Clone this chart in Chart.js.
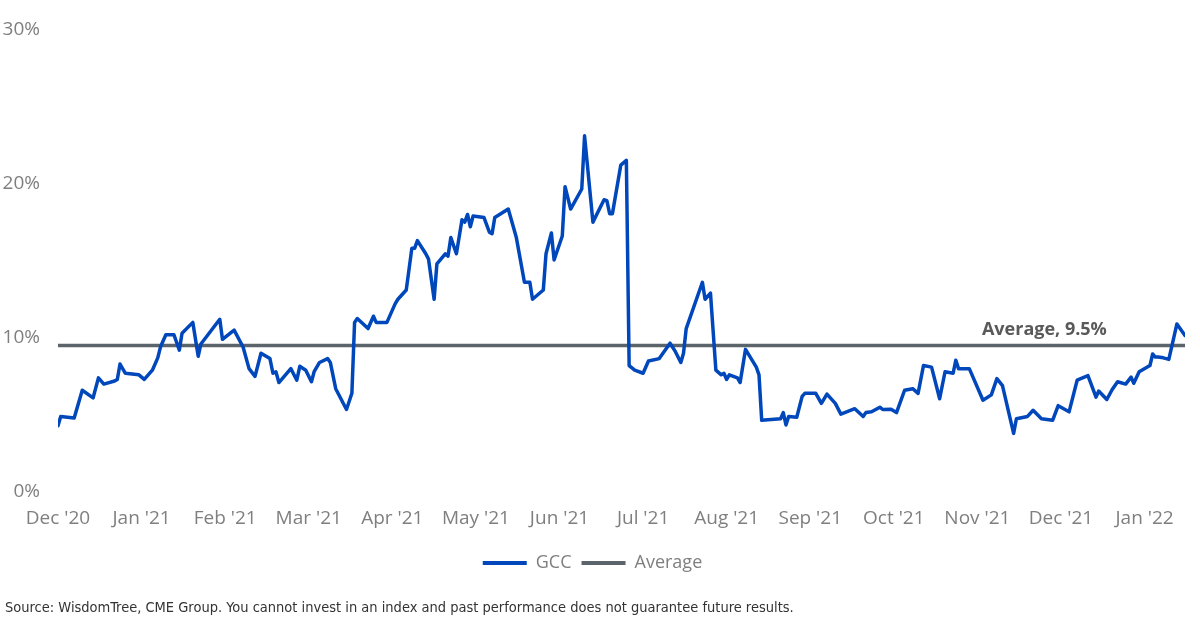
<!DOCTYPE html>
<html>
<head>
<meta charset="utf-8">
<title>GCC</title>
<script src="https://cdn.jsdelivr.net/npm/chart.js@4"></script>
<style>
    body { margin: 0; background: #fff; }
    .wrap { position: relative; width: 1200px; height: 622px; }
    #source {
        position: absolute; left: 5px; top: 599px;
        font: 14.5px "Liberation Sans Narrow", "DejaVu Sans Condensed", sans-serif;
        color: #333; white-space: nowrap;
    }
</style>
</head>
<body>
<div class="wrap">
    <canvas id="gccChart" width="1200" height="622"></canvas>
    <div id="source">Source: WisdomTree, CME Group. You cannot invest in an index and past performance does not guarantee future results.</div>
</div>
<script>
// ---- Data ----
const monthLabels = ["Dec '20", "Jan '21", "Feb '21", "Mar '21", "Apr '21", "May '21", "Jun '21",
    "Jul '21", "Aug '21", "Sep '21", "Oct '21", "Nov '21", "Dec '21", "Jan '22"];

const dates = [
    '2020-12-01', '2020-12-02', '2020-12-07', '2020-12-10', '2020-12-14', '2020-12-16', '2020-12-18',
    '2020-12-22', '2020-12-23', '2020-12-24', '2020-12-26', '2020-12-31',
    '2021-01-02', '2021-01-05', '2021-01-07', '2021-01-08', '2021-01-10', '2021-01-13', '2021-01-15',
    '2021-01-16', '2021-01-20', '2021-01-22', '2021-01-23', '2021-01-30', '2021-01-31',
    '2021-02-04', '2021-02-07', '2021-02-09', '2021-02-11', '2021-02-13', '2021-02-16', '2021-02-17',
    '2021-02-18', '2021-02-19', '2021-02-23', '2021-02-25', '2021-02-26', '2021-02-28',
    '2021-03-02', '2021-03-03', '2021-03-05', '2021-03-08', '2021-03-09', '2021-03-11', '2021-03-15',
    '2021-03-17', '2021-03-18', '2021-03-19', '2021-03-23', '2021-03-25', '2021-03-26', '2021-03-30',
    '2021-04-02', '2021-04-03', '2021-04-06', '2021-04-08', '2021-04-09', '2021-04-10', '2021-04-13',
    '2021-04-14', '2021-04-16', '2021-04-17', '2021-04-20', '2021-04-21', '2021-04-22', '2021-04-24',
    '2021-04-26', '2021-04-27', '2021-04-28', '2021-04-29', '2021-04-30',
    '2021-05-04', '2021-05-06', '2021-05-07', '2021-05-08', '2021-05-13', '2021-05-16', '2021-05-19',
    '2021-05-21', '2021-05-22', '2021-05-26', '2021-05-27', '2021-05-29', '2021-05-30',
    '2021-06-02', '2021-06-03', '2021-06-05', '2021-06-09', '2021-06-10', '2021-06-13', '2021-06-17',
    '2021-06-18', '2021-06-19', '2021-06-20', '2021-06-23', '2021-06-25', '2021-06-26', '2021-06-28',
    '2021-07-01', '2021-07-03', '2021-07-07', '2021-07-11', '2021-07-13', '2021-07-15', '2021-07-16',
    '2021-07-17', '2021-07-23', '2021-07-24', '2021-07-26', '2021-07-28', '2021-07-30', '2021-07-31',
    '2021-08-01', '2021-08-02', '2021-08-05', '2021-08-06', '2021-08-08', '2021-08-12', '2021-08-13',
    '2021-08-14', '2021-08-21', '2021-08-22', '2021-08-23', '2021-08-24', '2021-08-27', '2021-08-29',
    '2021-08-30',
    '2021-09-03', '2021-09-05', '2021-09-07', '2021-09-10', '2021-09-12', '2021-09-17', '2021-09-20',
    '2021-09-21', '2021-09-23', '2021-09-26', '2021-09-27', '2021-09-30',
    '2021-10-02', '2021-10-05', '2021-10-08', '2021-10-10', '2021-10-12', '2021-10-15', '2021-10-18',
    '2021-10-20', '2021-10-23', '2021-10-24', '2021-10-25', '2021-10-29',
    '2021-11-03', '2021-11-06', '2021-11-08', '2021-11-10', '2021-11-14', '2021-11-15', '2021-11-19',
    '2021-11-21', '2021-11-24', '2021-11-28', '2021-11-30',
    '2021-12-04', '2021-12-07', '2021-12-11', '2021-12-14', '2021-12-15', '2021-12-18', '2021-12-20',
    '2021-12-22', '2021-12-25', '2021-12-27', '2021-12-28', '2021-12-30',
    '2022-01-03', '2022-01-04', '2022-01-05', '2022-01-06', '2022-01-08', '2022-01-10', '2022-01-13',
    '2022-01-16'
];

const gcc = [
    4.3, 4.9, 4.8, 6.6, 6.1, 7.4, 7.0,
    7.2, 7.3, 8.3, 7.7, 7.6,
    7.3, 7.9, 8.7, 9.4, 10.2, 10.2, 9.2,
    10.3, 11.0, 8.8, 9.6, 11.2, 9.9,
    10.5, 9.4, 8.0, 7.5, 9.0, 8.65, 7.7,
    7.8, 7.1, 8.0, 7.25, 8.15, 7.9,
    7.15, 7.8, 8.4, 8.65, 8.4, 6.7, 5.35,
    6.4, 11.0, 11.25, 10.6, 11.4, 11.0, 11.0,
    12.2, 12.5, 13.1, 15.8, 15.8, 16.3, 15.45,
    15.1, 12.5, 14.8, 15.45, 15.3, 16.5, 15.45,
    17.65, 17.5, 18.0, 17.2, 17.9,
    17.8, 16.85, 16.75, 17.8, 18.35, 16.5, 13.6,
    13.6, 12.5, 13.1, 15.45, 16.8, 15.05,
    16.6, 19.8, 18.35, 19.65, 23.1, 17.5, 18.95,
    18.9, 18.05, 18.05, 21.2, 21.5, 8.2, 7.9,
    7.7, 8.5, 8.65, 9.65, 9.1, 8.4, 9.0,
    10.6, 13.6, 12.5, 12.9, 7.9, 7.6, 7.7,
    7.3, 7.6, 7.4, 7.1, 9.25, 8.1, 7.6,
    4.65, 4.75, 5.15, 4.35, 4.9, 4.85, 6.2,
    6.4,
    6.4, 5.75, 6.35, 5.75, 5.05, 5.4, 4.9,
    5.15, 5.2, 5.5, 5.35, 5.37,
    5.15, 6.6, 6.7, 6.4, 8.2, 8.1, 6.05,
    7.8, 7.7, 8.55, 8.0, 8.0,
    5.95, 6.3, 7.35, 6.9, 3.8, 4.75, 4.9,
    5.3, 4.75, 4.65, 5.6,
    5.2, 7.25, 7.55, 6.15, 6.55, 6.0, 6.65,
    7.15, 7.0, 7.45, 7.05, 7.8,
    8.2, 8.95, 8.75, 8.75, 8.7, 8.6, 10.9,
    10.15
];

const avgValue = 9.5;
const avgLabel = 'Average, 9.5%';
const avgLabelDate = '2021-12-18';
const yTicks = [0, 10, 20, 30];

// ---- Helpers ----
// months since Dec 1 2020, with the day as a fraction of its month
function monthPos(s) {
    const [y, m, d] = s.split('-').map(Number);
    const dim = new Date(y, m, 0).getDate();
    return (y - 2020) * 12 + (m - 12) + (d - 1) / dim;
}

const BLUE = '#0047bb';
const GREY = '#5b646b';
const TICK = '#7f7f7f';

Chart.defaults.font.family = '"Open Sans", sans-serif';

// ---- Average label ----
const avgLabelPlugin = {
    id: 'avgLabel',
    afterDatasetsDraw(chart) {
        const { ctx, scales: { x, y } } = chart;
        ctx.save();
        ctx.font = 'bold 18px "Open Sans", sans-serif';
        ctx.fillStyle = '#595959';
        ctx.textAlign = 'right';
        ctx.textBaseline = 'middle';
        ctx.fillText(avgLabel, x.getPixelForValue(monthPos(avgLabelDate)), y.getPixelForValue(avgValue) - 16);
        ctx.restore();
    }
};

// ---- Chart ----
function initChart() {
    const ctx = document.getElementById('gccChart');
    const firstX = monthPos(dates[0]);
    const lastX = monthPos(dates[dates.length - 1]);

    new Chart(ctx, {
        type: 'line',
        data: {
            datasets: [{
                label: 'GCC',
                data: dates.map((d, i) => ({ x: monthPos(d), y: gcc[i] })),
                borderColor: BLUE,
                backgroundColor: BLUE,
                borderWidth: 3.5,
                borderJoinStyle: 'round',
                borderCapStyle: 'round',
                pointRadius: 0,
                tension: 0,
            }, {
                label: 'Average',
                data: [{ x: firstX, y: avgValue }, { x: lastX, y: avgValue }],
                borderColor: GREY,
                backgroundColor: GREY,
                borderWidth: 3.5,
                pointRadius: 0,
            }]
        },
        options: {
            responsive: false,
            animation: false,
            layout: { padding: { top: 29, right: 15, left: 0, bottom: 40 } },
            scales: {
                x: {
                    type: 'linear',
                    min: 0,
                    max: lastX,
                    grid: { display: false, drawTicks: false },
                    border: { display: false },
                    afterBuildTicks: (s) => { s.ticks = monthLabels.map((_, i) => ({ value: i })); },
                    afterFit: (s) => { s.height = 52; },
                    ticks: {
                        autoSkip: false, maxRotation: 0, padding: 15,
                        color: TICK, font: { size: 19 },
                        callback: (v) => monthLabels[v]
                    }
                },
                y: {
                    min: 0,
                    max: 30,
                    grid: { display: false, drawTicks: false },
                    border: { display: false },
                    afterBuildTicks: (s) => { s.ticks = yTicks.map(v => ({ value: v })); },
                    afterFit: (s) => { s.width = 58; },
                    ticks: {
                        padding: 18, color: TICK, font: { size: 19 },
                        callback: (v) => v + '%'
                    }
                }
            },
            plugins: {
                tooltip: { enabled: false },
                legend: {
                    position: 'bottom',
                    labels: {
                        boxWidth: 44, boxHeight: 4, padding: 10,
                        color: TICK, font: { size: 18 },
                        generateLabels(chart) {
                            const items = Chart.defaults.plugins.legend.labels.generateLabels(chart);
                            items.forEach(it => { it.lineWidth = 0; });
                            return items;
                        }
                    }
                }
            }
        },
        plugins: [avgLabelPlugin]
    });
}

document.addEventListener('DOMContentLoaded', initChart);
</script>
</body>
</html>
